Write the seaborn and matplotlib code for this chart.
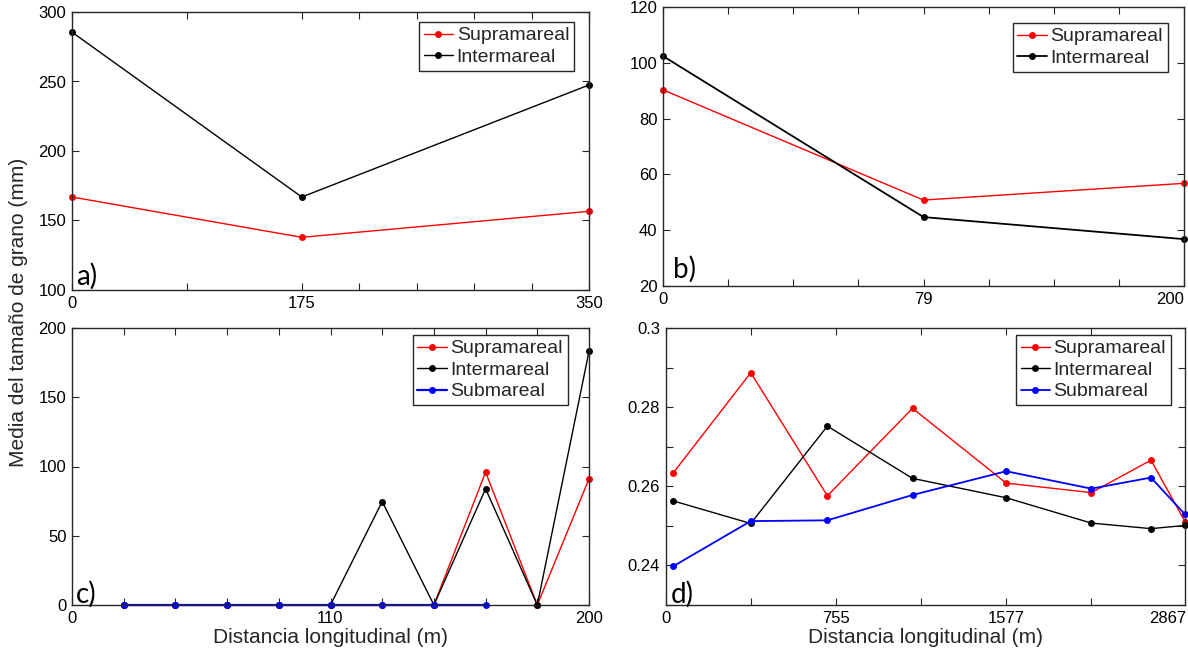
import numpy as np
import pandas as pd
import matplotlib
matplotlib.use("Agg")
import matplotlib.pyplot as plt
import seaborn as sns

# ---------------- data ----------------
# panel a
a_x = [0, 4, 9]
a_supra = [166.9, 137.9, 156.6]
a_inter = [285.5, 166.9, 247.5]
a_ticks = [0, 2, 4, 5, 6, 7, 8, 9]
a_ticklabels = ["0", "", "175", "", "", "", "", "350"]

# panel b
b_x = [0, 4, 8]
b_supra = [90.3, 50.8, 56.8]
b_inter = [102.4, 44.7, 36.8]
b_ticks = [0, 1, 2, 3, 4, 5, 6, 7, 8]
b_ticklabels = ["0", "", "", "", "79", "", "", "", "200"]

# panel c
c_x = [1, 2, 3, 4, 5, 6, 7, 8, 9, 10]
c_supra = [0, 0, 0, 0, 0, 0, 0, 95.9, 0, 91.1]
c_inter = [0, 0, 0, 0, 0, 74.7, 0, 83.9, 0, 183.1]
c_sub_x = [1, 2, 3, 4, 5, 6, 7, 8]
c_sub = [0, 0, 0, 0, 0, 0, 0, 0]
c_ticks = [0, 1, 2, 3, 4, 5, 6, 7, 8, 9, 10]
c_ticklabels = ["0", "", "", "", "", "110", "", "", "", "", "200"]

# panel d
d_x = [0.09, 1.0, 1.9, 2.9, 4.0, 5.0, 5.7, 6.1]
d_supra = [0.2634, 0.2887, 0.2576, 0.2797, 0.2608, 0.2584, 0.2666, 0.2511]
d_inter = [0.2563, 0.2506, 0.2752, 0.2620, 0.2571, 0.2507, 0.2493, 0.2501]
d_sub = [0.2398, 0.2512, 0.2514, 0.2578, 0.2638, 0.2594, 0.2622, 0.2529]
d_ticks = [0, 1, 2, 3, 4, 5, 5.9]
d_ticklabels = ["0", "", "755", "", "1577", "", "2867"]

series_names = ["Supramareal", "Intermareal", "Submareal"]
series_colors = ["#ff0000", "#000000", "#0000ff"]
panel_tags = ["a)", "b)", "c)", "d)"]
ylabel = "Media del tamaño de grano (mm)"
xlabel = "Distancia longitudinal (m)"

# ---------------- style ----------------
sns.set_theme(style="white")
plt.rcParams["font.family"] = ["Liberation Sans", "DejaVu Sans"]
plt.rcParams["axes.edgecolor"] = "#262626"
plt.rcParams["axes.linewidth"] = 1.0

fig = plt.figure(figsize=(11.88, 6.52), dpi=100)
W, H = 1188, 652


def add_ax(l, r, t, b):
    return fig.add_axes([l / W, 1 - b / H, (r - l) / W, (b - t) / H])


ax_a = add_ax(72, 589, 12, 290)
ax_b = add_ax(663, 1184, 7, 286)
ax_c = add_ax(72, 589, 328, 605)
ax_d = add_ax(665.6, 1185, 328, 605)


def draw(ax, x, y, idx, lw=1.0):
    df = pd.DataFrame({"x": x, "y": y})
    sns.lineplot(data=df, x="x", y="y", ax=ax, color=series_colors[idx],
                 marker="o", markersize=5, markeredgewidth=0, linewidth=lw,
                 label=series_names[idx], sort=False, clip_on=False)


def style(ax, ticks, labels, xlim, ylim, yticks, yticklabels, leg_anchor, tag, tag_pos):
    ax.set_xlim(*xlim)
    ax.set_ylim(*ylim)
    ax.set_xticks(ticks)
    ax.set_xticklabels(labels)
    ax.set_yticks(yticks)
    ax.set_yticklabels(yticklabels)
    ax.set_xlabel("")
    ax.set_ylabel("")
    ax.tick_params(direction="in", length=5, width=0.8, color="#262626",
                   top=True, right=True, bottom=True, left=True,
                   labelsize=12, labelcolor="black", pad=4)
    for s in ax.spines.values():
        s.set_color("#262626")
        s.set_linewidth(1.0)
    leg = ax.legend(loc="upper right", bbox_to_anchor=leg_anchor, borderaxespad=0,
                    fontsize=14, frameon=True, fancybox=False, framealpha=1,
                    edgecolor="#262626", handlelength=1.5, handletextpad=0.2,
                    borderpad=0.25, labelspacing=0.2)
    leg.get_frame().set_linewidth(1.0)
    ax.text(tag_pos[0], tag_pos[1], tag, transform=ax.transAxes,
            fontsize=20, family=["Lato", "DejaVu Sans"], color="black",
            ha="left", va="bottom")


# panel a
draw(ax_a, a_x, a_supra, 0)
draw(ax_a, a_x, a_inter, 1)
style(ax_a, a_ticks, a_ticklabels, (0, 9), (100, 300),
      [100, 150, 200, 250, 300], ["100", "150", "200", "250", "300"],
      (0.971, 0.964), panel_tags[0], (0.008, 0.0))

# panel b
draw(ax_b, b_x, b_supra, 0)
draw(ax_b, b_x, b_inter, 1, lw=1.3)
style(ax_b, b_ticks, b_ticklabels, (0, 8), (20, 120),
      [20, 40, 60, 80, 100, 120], ["20", "40", "60", "80", "100", "120"],
      (0.969, 0.943), panel_tags[1], (0.02, 0.01))
ax_b.get_xticklabels()[-1].set_horizontalalignment("right")

# panel c
draw(ax_c, c_x, c_supra, 0)
draw(ax_c, c_x, c_inter, 1)
draw(ax_c, c_sub_x, c_sub, 2, lw=1.6)
style(ax_c, c_ticks, c_ticklabels, (0, 10), (0, 200),
      [0, 50, 100, 150, 200], ["0", "50", "100", "150", "200"],
      (0.959, 0.975), panel_tags[2], (0.008, -0.01))

# panel d
draw(ax_d, d_x, d_supra, 0)
draw(ax_d, d_x, d_inter, 1)
draw(ax_d, d_x, d_sub, 2, lw=1.3)
d_yt = [0.23, 0.24, 0.25, 0.26, 0.27, 0.28, 0.29, 0.30]
d_ytl = ["", "0.24", "", "0.26", "", "0.28", "", "0.3"]
style(ax_d, d_ticks, d_ticklabels, (0, 6.1), (0.23, 0.30), d_yt, d_ytl,
      (0.973, 0.975), panel_tags[3], (0.01, -0.01))
last = ax_d.xaxis.get_major_ticks()[-1]
last.tick1line.set_visible(False)
last.tick2line.set_visible(False)

ax_c.set_xlabel(xlabel, fontsize=15, labelpad=2)
ax_d.set_xlabel(xlabel, fontsize=15, labelpad=2)
fig.text(18.5 / W, 1 - 312 / H, ylabel, rotation=90, fontsize=15,
         ha="center", va="center")

fig.savefig("out.png", dpi=100)
